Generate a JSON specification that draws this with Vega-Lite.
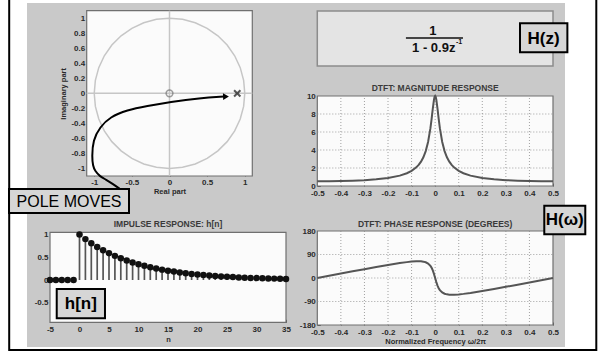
{
  "$schema": "https://vega.github.io/schema/vega-lite/v6.json",
  "width": 538,
  "height": 344,
  "autosize": "none",
  "padding": {"left": 27, "top": 3, "right": 37, "bottom": 5},
  "background": "#ffffff",
  "config": {
    "view": {"fill": "#c9c9c9", "stroke": null},
    "font": "Liberation Sans",
    "axis": {
      "domain": false, "grid": false,
      "labelFont": "Liberation Sans", "labelFontSize": 8, "labelFontWeight": "bold", "labelColor": "#2a2a2a",
      "titleFont": "Liberation Sans", "titleFontSize": 7.5, "titleFontWeight": "bold", "titleColor": "#2a2a2a",
      "tickColor": "#555555", "tickSize": -3, "labelPadding": 5, "labelFlush": false, "labelOverlap": false,
      "labelExpr": "'' + datum.value", "zindex": 1
    }
  },
  "datasets": {
    "one": [{}],
    "freq": [
      {"f": -0.5, "mag": 0.526, "ph": 0},
      {"f": -0.45, "mag": 0.533, "ph": 8.5},
      {"f": -0.4, "mag": 0.553, "ph": 17.0},
      {"f": -0.35, "mag": 0.590, "ph": 25.5},
      {"f": -0.3, "mag": 0.650, "ph": 33.8},
      {"f": -0.25, "mag": 0.743, "ph": 42.0},
      {"f": -0.2, "mag": 0.893, "ph": 49.9},
      {"f": -0.15, "mag": 1.153, "ph": 57.1},
      {"f": -0.12, "mag": 1.417, "ph": 60.8},
      {"f": -0.1, "mag": 1.681, "ph": 62.8},
      {"f": -0.08, "mag": 2.073, "ph": 64.0},
      {"f": -0.07, "mag": 2.348, "ph": 64.1},
      {"f": -0.06, "mag": 2.708, "ph": 63.8},
      {"f": -0.05, "mag": 3.193, "ph": 62.6},
      {"f": -0.04, "mag": 3.876, "ph": 60.2},
      {"f": -0.03, "mag": 4.886, "ph": 55.5},
      {"f": -0.02, "mag": 6.429, "ph": 46.5},
      {"f": -0.015, "mag": 7.456, "ph": 39.2},
      {"f": -0.01, "mag": 8.590, "ph": 29.0},
      {"f": -0.005, "mag": 9.583, "ph": 15.7},
      {"f": -0.0025, "mag": 9.891, "ph": 8.0},
      {"f": 0, "mag": 10, "ph": 0},
      {"f": 0.0025, "mag": 9.891, "ph": -8.0},
      {"f": 0.005, "mag": 9.583, "ph": -15.7},
      {"f": 0.01, "mag": 8.590, "ph": -29.0},
      {"f": 0.015, "mag": 7.456, "ph": -39.2},
      {"f": 0.02, "mag": 6.429, "ph": -46.5},
      {"f": 0.03, "mag": 4.886, "ph": -55.5},
      {"f": 0.04, "mag": 3.876, "ph": -60.2},
      {"f": 0.05, "mag": 3.193, "ph": -62.6},
      {"f": 0.06, "mag": 2.708, "ph": -63.8},
      {"f": 0.07, "mag": 2.348, "ph": -64.1},
      {"f": 0.08, "mag": 2.073, "ph": -64.0},
      {"f": 0.1, "mag": 1.681, "ph": -62.8},
      {"f": 0.12, "mag": 1.417, "ph": -60.8},
      {"f": 0.15, "mag": 1.153, "ph": -57.1},
      {"f": 0.2, "mag": 0.893, "ph": -49.9},
      {"f": 0.25, "mag": 0.743, "ph": -42.0},
      {"f": 0.3, "mag": 0.650, "ph": -33.8},
      {"f": 0.35, "mag": 0.590, "ph": -25.5},
      {"f": 0.4, "mag": 0.553, "ph": -17.0},
      {"f": 0.45, "mag": 0.533, "ph": -8.5},
      {"f": 0.5, "mag": 0.526, "ph": 0}
    ],
    "fgrid": [{"g": -0.4}, {"g": -0.3}, {"g": -0.2}, {"g": -0.1}, {"g": 0}, {"g": 0.1}, {"g": 0.2}, {"g": 0.3}, {"g": 0.4}],
    "mgrid": [{"g": 2}, {"g": 4}, {"g": 6}, {"g": 8}],
    "pgrid": [{"g": -90}, {"g": 0}, {"g": 90}],
    "imp": [
      {"n": -5, "h": 0}, {"n": -4, "h": 0}, {"n": -3, "h": 0}, {"n": -2, "h": 0}, {"n": -1, "h": 0},
      {"n": 0, "h": 1}, {"n": 1, "h": 0.9}, {"n": 2, "h": 0.81}, {"n": 3, "h": 0.729}, {"n": 4, "h": 0.6561},
      {"n": 5, "h": 0.5905}, {"n": 6, "h": 0.5314}, {"n": 7, "h": 0.4783}, {"n": 8, "h": 0.4305}, {"n": 9, "h": 0.3874},
      {"n": 10, "h": 0.3487}, {"n": 11, "h": 0.3138}, {"n": 12, "h": 0.2824}, {"n": 13, "h": 0.2542}, {"n": 14, "h": 0.2288},
      {"n": 15, "h": 0.2059}, {"n": 16, "h": 0.1853}, {"n": 17, "h": 0.1668}, {"n": 18, "h": 0.1501}, {"n": 19, "h": 0.1351},
      {"n": 20, "h": 0.1216}, {"n": 21, "h": 0.1094}, {"n": 22, "h": 0.0985}, {"n": 23, "h": 0.0886}, {"n": 24, "h": 0.0798},
      {"n": 25, "h": 0.0718}, {"n": 26, "h": 0.0646}, {"n": 27, "h": 0.0581}, {"n": 28, "h": 0.0523}, {"n": 29, "h": 0.0471},
      {"n": 30, "h": 0.0424}, {"n": 31, "h": 0.0382}, {"n": 32, "h": 0.0343}, {"n": 33, "h": 0.0309}, {"n": 34, "h": 0.0278},
      {"n": 35, "h": 0.025}
    ],
    "circ": [
      {"a": 0, "cx": 1, "cy": 0}, {"a": 10, "cx": 0.9848, "cy": 0.1736}, {"a": 20, "cx": 0.9397, "cy": 0.342},
      {"a": 30, "cx": 0.866, "cy": 0.5}, {"a": 40, "cx": 0.766, "cy": 0.6428}, {"a": 50, "cx": 0.6428, "cy": 0.766},
      {"a": 60, "cx": 0.5, "cy": 0.866}, {"a": 70, "cx": 0.342, "cy": 0.9397}, {"a": 80, "cx": 0.1736, "cy": 0.9848},
      {"a": 90, "cx": 0, "cy": 1}, {"a": 100, "cx": -0.1736, "cy": 0.9848}, {"a": 110, "cx": -0.342, "cy": 0.9397},
      {"a": 120, "cx": -0.5, "cy": 0.866}, {"a": 130, "cx": -0.6428, "cy": 0.766}, {"a": 140, "cx": -0.766, "cy": 0.6428},
      {"a": 150, "cx": -0.866, "cy": 0.5}, {"a": 160, "cx": -0.9397, "cy": 0.342}, {"a": 170, "cx": -0.9848, "cy": 0.1736},
      {"a": 180, "cx": -1, "cy": 0}, {"a": 190, "cx": -0.9848, "cy": -0.1736}, {"a": 200, "cx": -0.9397, "cy": -0.342},
      {"a": 210, "cx": -0.866, "cy": -0.5}, {"a": 220, "cx": -0.766, "cy": -0.6428}, {"a": 230, "cx": -0.6428, "cy": -0.766},
      {"a": 240, "cx": -0.5, "cy": -0.866}, {"a": 250, "cx": -0.342, "cy": -0.9397}, {"a": 260, "cx": -0.1736, "cy": -0.9848},
      {"a": 270, "cx": 0, "cy": -1}, {"a": 280, "cx": 0.1736, "cy": -0.9848}, {"a": 290, "cx": 0.342, "cy": -0.9397},
      {"a": 300, "cx": 0.5, "cy": -0.866}, {"a": 310, "cx": 0.6428, "cy": -0.766}, {"a": 320, "cx": 0.766, "cy": -0.6428},
      {"a": 330, "cx": 0.866, "cy": -0.5}, {"a": 340, "cx": 0.9397, "cy": -0.342}, {"a": 350, "cx": 0.9848, "cy": -0.1736},
      {"a": 360, "cx": 1, "cy": 0}
    ],
    "arrow": [
      {"i": 0, "re": -0.658, "im": -1.273}, {"i": 1, "re": -0.751, "im": -1.206}, {"i": 2, "re": -0.844, "im": -1.147},
      {"i": 3, "re": -0.923, "im": -1.107}, {"i": 4, "re": -0.99, "im": -1.033}, {"i": 5, "re": -1.017, "im": -0.967},
      {"i": 6, "re": -1.03, "im": -0.847}, {"i": 7, "re": -1.017, "im": -0.621}, {"i": 8, "re": -0.923, "im": -0.448},
      {"i": 9, "re": -0.79, "im": -0.315}, {"i": 10, "re": -0.565, "im": -0.222}, {"i": 11, "re": -0.299, "im": -0.168},
      {"i": 12, "re": 0.007, "im": -0.115}, {"i": 13, "re": 0.405, "im": -0.062}, {"i": 14, "re": 0.724, "im": -0.042}
    ],
    "pz": [
      {"re": 0, "im": 0, "kind": "zero"},
      {"re": 0.9, "im": 0, "kind": "pole"}
    ]
  },
  "layer": [
    {
      "data": {"name": "one"},
      "mark": {"type": "rect", "fill": null, "fillOpacity": 0, "stroke": "#000000", "strokeWidth": 2},
      "encoding": {
        "x": {"datum": 0, "type": "quantitative", "scale": {"domain": [0, 1], "range": [-17.8, 569.3], "nice": false, "zero": false}, "axis": null},
        "x2": {"datum": 1},
        "y": {"datum": 0, "type": "quantitative", "scale": {"domain": [0, 1], "range": [347, -10], "nice": false, "zero": false}, "axis": null},
        "y2": {"datum": 1}
      }
    },
    {
      "layer": [
        {
          "data": {"name": "one"},
          "mark": {"type": "rect", "fill": "#fbfbfb", "stroke": "#707070", "strokeWidth": 1.2},
          "encoding": {
            "x": {"datum": -1.1, "type": "quantitative", "scale": {"domain": [-1.1, 1.1], "range": [59.7, 225.3], "nice": false, "zero": false}, "axis": null},
            "x2": {"datum": 1.1},
            "y": {"datum": -1.1, "type": "quantitative",
                  "scale": {"domain": [-1.1, 1.1], "range": [173, 7.7], "nice": false, "zero": false},
                  "axis": {"orient": "left", "offset": -59.7, "values": [-0.8, -0.4, 0, 0.4, 0.8], "title": null}},
            "y2": {"datum": 1.1}
          }
        },
        {
          "data": {"name": "one"},
          "mark": {"type": "rule", "color": "#c6c6c6", "strokeWidth": 1.5},
          "encoding": {"x": {"datum": 0, "type": "quantitative", "axis": null}, "y": {"datum": -1.1, "type": "quantitative"}, "y2": {"datum": 1.1}}
        },
        {
          "data": {"name": "one"},
          "mark": {"type": "rule", "color": "#c6c6c6", "strokeWidth": 1.5},
          "encoding": {"y": {"datum": 0, "type": "quantitative"}, "x": {"datum": -1.1, "type": "quantitative", "axis": null}, "x2": {"datum": 1.1}}
        }
      ]
    },
    {
      "layer": [
        {
          "data": {"name": "circ"},
          "mark": {"type": "line", "color": "#c6c6c6", "strokeWidth": 1.5},
          "encoding": {
            "x": {"field": "cx", "type": "quantitative",
                  "scale": {"domain": [-1.1, 1.1], "range": [59.7, 225.3], "nice": false, "zero": false},
                  "axis": {"orient": "bottom", "offset": -171, "values": [-1, -0.5, 0, 0.5, 1], "title": "Real part", "titlePadding": 1}},
            "y": {"field": "cy", "type": "quantitative",
                  "scale": {"domain": [-1.1, 1.1], "range": [173, 7.7], "nice": false, "zero": false},
                  "axis": {"orient": "left", "offset": -59.7, "values": [-1, -0.6, -0.2, 0.2, 0.6, 1], "title": "Imaginary part", "titlePadding": 3}},
            "order": {"field": "a"}
          }
        },
        {
          "data": {"name": "pz"},
          "transform": [{"filter": "datum.kind == 'zero'"}],
          "mark": {"type": "point", "shape": "circle", "filled": false, "stroke": "#777777", "strokeWidth": 1.6, "size": 45},
          "encoding": {"x": {"field": "re", "type": "quantitative"}, "y": {"field": "im", "type": "quantitative"}}
        },
        {
          "data": {"name": "pz"},
          "transform": [{"filter": "datum.kind == 'pole'"}],
          "mark": {"type": "point", "shape": "M-1,-1L1,1M-1,1L1,-1", "filled": false, "stroke": "#111111", "strokeWidth": 2, "size": 40},
          "encoding": {"x": {"field": "re", "type": "quantitative"}, "y": {"field": "im", "type": "quantitative"}}
        },
        {
          "data": {"name": "arrow"},
          "mark": {"type": "line", "color": "#000000", "strokeWidth": 2, "interpolate": "basis"},
          "encoding": {"x": {"field": "re", "type": "quantitative"}, "y": {"field": "im", "type": "quantitative"}, "order": {"field": "i"}}
        },
        {
          "data": {"name": "one"},
          "mark": {"type": "point", "shape": "triangle-right", "filled": true, "color": "#000000", "size": 45, "angle": -2, "opacity": 1},
          "encoding": {"x": {"datum": 0.75, "type": "quantitative"}, "y": {"datum": -0.042, "type": "quantitative"}}
        },
        {
          "data": {"name": "one"},
          "mark": {"type": "rect", "fill": "#d6d6d6", "stroke": "#000000", "strokeWidth": 2},
          "encoding": {"x": {"datum": -2.132, "type": "quantitative"}, "x2": {"datum": -0.538}, "y": {"datum": -1.273, "type": "quantitative"}, "y2": {"datum": -1.592}}
        },
        {
          "data": {"name": "one"},
          "mark": {"type": "text", "text": "POLE MOVES", "font": "Liberation Sans", "fontSize": 16, "color": "#000000", "align": "center", "baseline": "middle"},
          "encoding": {"x": {"datum": -1.335, "type": "quantitative"}, "y": {"datum": -1.44, "type": "quantitative"}}
        }
      ]
    },
    {
      "layer": [
        {
          "data": {"name": "one"},
          "mark": {"type": "rect", "fill": "#fbfbfb", "stroke": "#707070", "strokeWidth": 1.2},
          "encoding": {
            "x": {"datum": -5, "type": "quantitative",
                  "scale": {"domain": [-5, 35], "range": [23, 259], "nice": false, "zero": false},
                  "axis": {"orient": "bottom", "offset": -24.7, "values": [-5, 0, 5, 10, 15, 20, 25, 30, 35], "title": "n", "titlePadding": 2, "labelPadding": 6}},
            "x2": {"datum": 35},
            "y": {"datum": -0.93, "type": "quantitative",
                  "scale": {"domain": [-0.93, 1.05], "range": [319.3, 229.3], "nice": false, "zero": false},
                  "axis": {"orient": "left", "offset": -23, "values": [-0.5, 0, 0.5, 1], "title": null}},
            "y2": {"datum": 1.05}
          }
        },
        {
          "data": {"name": "imp"},
          "mark": {"type": "rule", "color": "#555555", "strokeWidth": 1.7},
          "encoding": {"x": {"field": "n", "type": "quantitative"}, "y": {"field": "h", "type": "quantitative"}, "y2": {"datum": 0}}
        },
        {
          "data": {"name": "imp"},
          "mark": {"type": "point", "filled": true, "color": "#111111", "size": 42, "opacity": 1},
          "encoding": {"x": {"field": "n", "type": "quantitative"}, "y": {"field": "h", "type": "quantitative"}}
        },
        {
          "data": {"name": "one"},
          "mark": {"type": "text", "text": "IMPULSE RESPONSE: h[n]", "font": "Liberation Sans", "fontSize": 8.5, "fontWeight": "bold", "color": "#3a3a3a", "align": "center", "baseline": "middle"},
          "encoding": {"x": {"datum": 15, "type": "quantitative"}, "y": {"datum": 1.226, "type": "quantitative"}}
        },
        {
          "data": {"name": "one"},
          "mark": {"type": "rect", "fill": "#d6d6d6", "stroke": "#000000", "strokeWidth": 2},
          "encoding": {"x": {"datum": -3.86, "type": "quantitative"}, "x2": {"datum": 4.32}, "y": {"datum": -0.198, "type": "quantitative"}, "y2": {"datum": -0.843}}
        },
        {
          "data": {"name": "one"},
          "mark": {"type": "text", "text": "h[n]", "font": "Liberation Sans", "fontSize": 17, "fontWeight": "bold", "color": "#000000", "align": "center", "baseline": "middle"},
          "encoding": {"x": {"datum": 0.23, "type": "quantitative"}, "y": {"datum": -0.52, "type": "quantitative"}}
        }
      ]
    },
    {
      "layer": [
        {
          "data": {"name": "one"},
          "mark": {"type": "rect", "fill": "#e4e4e4", "stroke": "#8c8c8c", "strokeWidth": 1.5},
          "encoding": {
            "x": {"datum": 0, "type": "quantitative", "scale": {"domain": [0, 1], "range": [290.3, 526], "nice": false, "zero": false}, "axis": null},
            "x2": {"datum": 1},
            "y": {"datum": 0, "type": "quantitative", "scale": {"domain": [0, 1], "range": [63, 8], "nice": false, "zero": false}, "axis": null},
            "y2": {"datum": 1}
          }
        },
        {
          "data": {"name": "one"},
          "mark": {"type": "text", "text": "1", "font": "Liberation Sans", "fontSize": 13, "fontWeight": "bold", "color": "#111111", "align": "center", "baseline": "middle"},
          "encoding": {"x": {"datum": 0.49, "type": "quantitative"}, "y": {"datum": 0.64, "type": "quantitative"}}
        },
        {
          "data": {"name": "one"},
          "mark": {"type": "rule", "color": "#111111", "strokeWidth": 1.3},
          "encoding": {"x": {"datum": 0.376, "type": "quantitative"}, "x2": {"datum": 0.618}, "y": {"datum": 0.509, "type": "quantitative"}}
        },
        {
          "data": {"name": "one"},
          "mark": {"type": "text", "text": "1 - 0.9z", "font": "Liberation Sans", "fontSize": 13, "fontWeight": "bold", "color": "#111111", "align": "right", "baseline": "middle"},
          "encoding": {"x": {"datum": 0.586, "type": "quantitative"}, "y": {"datum": 0.33, "type": "quantitative"}}
        },
        {
          "data": {"name": "one"},
          "mark": {"type": "text", "text": "-1", "font": "Liberation Sans", "fontSize": 7, "fontWeight": "bold", "color": "#111111", "align": "left", "baseline": "middle"},
          "encoding": {"x": {"datum": 0.588, "type": "quantitative"}, "y": {"datum": 0.43, "type": "quantitative"}}
        },
        {
          "data": {"name": "one"},
          "mark": {"type": "rect", "fill": "#d6d6d6", "stroke": "#000000", "strokeWidth": 2},
          "encoding": {"x": {"datum": 0.86, "type": "quantitative"}, "x2": {"datum": 1.061}, "y": {"datum": 0.249, "type": "quantitative"}, "y2": {"datum": 0.776}}
        },
        {
          "data": {"name": "one"},
          "mark": {"type": "text", "text": "H(z)", "font": "Liberation Sans", "fontSize": 17, "fontWeight": "bold", "color": "#000000", "align": "center", "baseline": "middle"},
          "encoding": {"x": {"datum": 0.96, "type": "quantitative"}, "y": {"datum": 0.5, "type": "quantitative"}}
        }
      ]
    },
    {
      "layer": [
        {
          "data": {"name": "one"},
          "mark": {"type": "rect", "fill": "#fbfbfb", "stroke": "#707070", "strokeWidth": 1.2},
          "encoding": {
            "x": {"datum": -0.5, "type": "quantitative",
                  "scale": {"domain": [-0.5, 0.5], "range": [290.3, 526], "nice": false, "zero": false},
                  "axis": {"orient": "bottom", "offset": -161, "values": [-0.5, -0.4, -0.3, -0.2, -0.1, 0, 0.1, 0.2, 0.3, 0.4, 0.5], "title": null, "labelPadding": 6.5}},
            "x2": {"datum": 0.5},
            "y": {"datum": 0, "type": "quantitative",
                  "scale": {"domain": [0, 10], "range": [183, 93], "nice": false, "zero": false},
                  "axis": {"orient": "left", "offset": -290.3, "values": [0, 2, 4, 6, 8, 10], "title": null}},
            "y2": {"datum": 10}
          }
        },
        {
          "data": {"name": "fgrid"},
          "mark": {"type": "rule", "color": "#8a8a8a", "strokeWidth": 0.8, "strokeDash": [1, 2]},
          "encoding": {"x": {"field": "g", "type": "quantitative"}, "y": {"datum": 0, "type": "quantitative"}, "y2": {"datum": 10}}
        },
        {
          "data": {"name": "mgrid"},
          "mark": {"type": "rule", "color": "#8a8a8a", "strokeWidth": 0.8, "strokeDash": [1, 2]},
          "encoding": {"y": {"field": "g", "type": "quantitative"}, "x": {"datum": -0.5, "type": "quantitative"}, "x2": {"datum": 0.5}}
        },
        {
          "data": {"name": "freq"},
          "mark": {"type": "line", "color": "#555555", "strokeWidth": 2},
          "encoding": {"x": {"field": "f", "type": "quantitative"}, "y": {"field": "mag", "type": "quantitative"}}
        },
        {
          "data": {"name": "one"},
          "mark": {"type": "text", "text": "DTFT:  MAGNITUDE RESPONSE", "font": "Liberation Sans", "fontSize": 8.5, "fontWeight": "bold", "color": "#3a3a3a", "align": "center", "baseline": "middle"},
          "encoding": {"x": {"datum": 0, "type": "quantitative"}, "y": {"datum": 10.86, "type": "quantitative"}}
        }
      ]
    },
    {
      "layer": [
        {
          "data": {"name": "one"},
          "mark": {"type": "rect", "fill": "#fbfbfb", "stroke": "#707070", "strokeWidth": 1.2},
          "encoding": {
            "x": {"datum": -0.5, "type": "quantitative",
                  "scale": {"domain": [-0.5, 0.5], "range": [290.3, 526], "nice": false, "zero": false},
                  "axis": {"orient": "bottom", "offset": -22, "values": [-0.5, -0.4, -0.3, -0.2, -0.1, 0, 0.1, 0.2, 0.3, 0.4, 0.5], "title": "Normalized Frequency    ω/2π", "titlePadding": 1, "labelPadding": 6.5}},
            "x2": {"datum": 0.5},
            "y": {"datum": -180, "type": "quantitative",
                  "scale": {"domain": [-180, 180], "range": [322, 228], "nice": false, "zero": false},
                  "axis": {"orient": "left", "offset": -290.3, "values": [-180, -90, 0, 90, 180], "title": null}},
            "y2": {"datum": 180}
          }
        },
        {
          "data": {"name": "fgrid"},
          "mark": {"type": "rule", "color": "#8a8a8a", "strokeWidth": 0.8, "strokeDash": [1, 2]},
          "encoding": {"x": {"field": "g", "type": "quantitative"}, "y": {"datum": -180, "type": "quantitative"}, "y2": {"datum": 180}}
        },
        {
          "data": {"name": "pgrid"},
          "mark": {"type": "rule", "color": "#8a8a8a", "strokeWidth": 0.8, "strokeDash": [1, 2]},
          "encoding": {"y": {"field": "g", "type": "quantitative"}, "x": {"datum": -0.5, "type": "quantitative"}, "x2": {"datum": 0.5}}
        },
        {
          "data": {"name": "freq"},
          "mark": {"type": "line", "color": "#555555", "strokeWidth": 2},
          "encoding": {"x": {"field": "f", "type": "quantitative"}, "y": {"field": "ph", "type": "quantitative"}}
        },
        {
          "data": {"name": "one"},
          "mark": {"type": "text", "text": "DTFT:  PHASE RESPONSE (DEGREES)", "font": "Liberation Sans", "fontSize": 8.5, "fontWeight": "bold", "color": "#3a3a3a", "align": "center", "baseline": "middle"},
          "encoding": {"x": {"datum": 0, "type": "quantitative"}, "y": {"datum": 205.7, "type": "quantitative"}}
        },
        {
          "data": {"name": "one"},
          "mark": {"type": "rect", "fill": "#d6d6d6", "stroke": "#000000", "strokeWidth": 2},
          "encoding": {"x": {"datum": 0.463, "type": "quantitative"}, "x2": {"datum": 0.637}, "y": {"datum": 167.4, "type": "quantitative"}, "y2": {"datum": 276.9}}
        },
        {
          "data": {"name": "one"},
          "mark": {"type": "text", "text": "H(ω)", "font": "Liberation Sans", "fontSize": 17, "fontWeight": "bold", "color": "#000000", "align": "center", "baseline": "middle"},
          "encoding": {"x": {"datum": 0.55, "type": "quantitative"}, "y": {"datum": 222, "type": "quantitative"}}
        }
      ]
    }
  ],
  "resolve": {"scale": {"x": "independent", "y": "independent"}}
}
